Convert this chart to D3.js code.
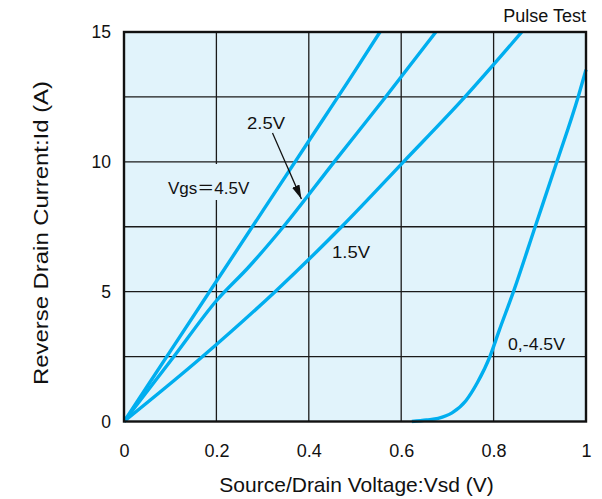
<!DOCTYPE html>
<html>
<head>
<meta charset="utf-8">
<script src="https://cdn.jsdelivr.net/npm/d3@7"></script>
<style>
  html, body { margin: 0; padding: 0; background: #ffffff; }
  svg { display: block; font-family: "Liberation Sans", Arial, Helvetica, sans-serif; }
</style>
</head>
<body>
<svg id="chart" width="602" height="499"></svg>
<script>
// Reverse drain current vs source/drain voltage, one curve per gate bias
const xTicks = [0, 0.2, 0.4, 0.6, 0.8, 1];
const xTickLabels = ["0", "0.2", "0.4", "0.6", "0.8", "1"];
const yTicks = [0, 5, 10, 15];
const yGrid = [0, 2.5, 5, 7.5, 10, 12.5, 15];

// Vgs = 4.5 V
const vsd45 = [0, 0.1, 0.2, 0.3, 0.4, 0.5, 0.554];
const id45  = [0, 2.7, 5.4, 8.1, 10.8, 13.5, 15];

// Vgs = 2.5 V
const vsd25 = [0, 0.108, 0.2, 0.27, 0.345, 0.455, 0.562, 0.675];
const id25  = [0, 2.5, 4.65, 5.95, 7.5, 10, 12.4, 15];

// Vgs = 1.5 V
const vsd15 = [0, 0.17, 0.327, 0.471, 0.605, 0.738, 0.861];
const id15  = [0, 2.5, 5, 7.5, 10, 12.5, 15];

// Vgs = 0 and -4.5 V (body diode)
const vsd0  = [0.623, 0.655, 0.68, 0.71, 0.74, 0.765, 0.792, 0.812, 0.843, 0.89, 0.937, 0.983, 1.0];
const id0   = [0, 0.06, 0.12, 0.33, 0.8, 1.5, 2.5, 3.5, 5, 7.5, 10, 12.5, 13.55];

const seriesLabels = ["Vgs＝4.5V", "2.5V", "1.5V", "0,-4.5V"];
// point on the 2.5 V curve that the arrow indicates
const arrowTarget = [0.384, 8.57];

const svg = d3.select("#chart");
const plotL = 124, plotR = 586, plotT = 32, plotB = 421.5;
const ink = "#111";
const bg = "#e1f3fb";

const x = d3.scaleLinear().domain([0, 1]).range([plotL, plotR]);
const y = d3.scaleLinear().domain([0, 15]).range([plotB, plotT]);

// plot background
svg.append("rect")
  .attr("x", plotL).attr("y", plotT)
  .attr("width", plotR - plotL).attr("height", plotB - plotT)
  .attr("fill", bg);

// grid
const grid = svg.append("g").attr("stroke", "#1a1a1a").attr("stroke-width", 1.3);
grid.selectAll("line.v").data(xTicks.slice(1, -1)).join("line").attr("class", "v")
  .attr("x1", d => x(d)).attr("x2", d => x(d))
  .attr("y1", plotT).attr("y2", plotB);
grid.selectAll("line.h").data(yGrid.slice(1, -1)).join("line").attr("class", "h")
  .attr("x1", plotL).attr("x2", plotR)
  .attr("y1", d => y(d)).attr("y2", d => y(d));

// label patch for the Vgs label (hides the grid line behind it)
svg.append("rect")
  .attr("x", 165).attr("y", 164).attr("width", 95).attr("height", 36)
  .attr("fill", bg);

// curves
svg.append("clipPath").attr("id", "plotclip")
  .append("rect").attr("x", plotL).attr("y", plotT)
  .attr("width", plotR - plotL + 2).attr("height", plotB - plotT + 2);

const line = d3.line().x(d => x(d[0])).y(d => y(d[1])).curve(d3.curveMonotoneX);
const curves = [
  d3.zip(vsd45, id45),
  d3.zip(vsd25, id25),
  d3.zip(vsd15, id15),
  d3.zip(vsd0, id0)
];
svg.append("g").attr("clip-path", "url(#plotclip)")
  .selectAll("path").data(curves).join("path")
  .attr("d", line)
  .attr("fill", "none")
  .attr("stroke", "#00aeef")
  .attr("stroke-width", 3.4)
  .attr("stroke-linejoin", "round");

// frame
svg.append("rect")
  .attr("x", plotL).attr("y", plotT)
  .attr("width", plotR - plotL).attr("height", plotB - plotT)
  .attr("fill", "none").attr("stroke", ink).attr("stroke-width", 2.4);

// axes (labels only, the frame carries the lines)
const xAxis = d3.axisBottom(x).tickValues(xTicks)
  .tickFormat((d, i) => xTickLabels[i]).tickSize(0);
const gx = svg.append("g").attr("transform", `translate(0,${plotB})`).call(xAxis);
gx.select(".domain").remove();
gx.selectAll("text").attr("font-size", 18).attr("fill", ink)
  .attr("font-family", "Liberation Sans, Arial, sans-serif")
  .attr("y", 35).attr("dy", 0);

const yAxis = d3.axisLeft(y).tickValues(yTicks).tickSize(0).tickPadding(13);
const gy = svg.append("g").attr("transform", `translate(${plotL},0)`).call(yAxis);
gy.select(".domain").remove();
gy.selectAll("text").attr("font-size", 17.5).attr("fill", ink)
  .attr("font-family", "Liberation Sans, Arial, sans-serif");

// axis titles
svg.append("text")
  .attr("x", 356.5).attr("y", 492)
  .attr("text-anchor", "middle").attr("font-size", 21).attr("fill", ink)
  .text("Source/Drain Voltage:Vsd (V)");
svg.append("text")
  .attr("transform", `translate(48,233) rotate(-90)`)
  .attr("text-anchor", "middle").attr("font-size", 20).attr("fill", ink)
  .attr("textLength", 304).attr("lengthAdjust", "spacingAndGlyphs")
  .text("Reverse Drain Current:Id (A)");

svg.append("text")
  .attr("x", plotR).attr("y", 21.5)
  .attr("text-anchor", "end").attr("font-size", 18).attr("fill", ink)
  .text("Pulse Test");

// curve labels
const eq = seriesLabels[0].split("＝");
const vgs = svg.append("text")
  .attr("x", 168).attr("y", 194)
  .attr("font-size", 17).attr("fill", ink);
vgs.append("tspan").text(eq[0]);
vgs.append("tspan").attr("font-family", "Noto Sans CJK JP").text("＝");
vgs.append("tspan").text(eq[1]);

function tag(txt, x0, baseline, w) {
  svg.append("text")
    .attr("x", x0).attr("y", baseline)
    .attr("font-size", 16.5).attr("fill", ink)
    .attr("textLength", w).attr("lengthAdjust", "spacingAndGlyphs")
    .text(txt);
}
tag(seriesLabels[1], 247, 128.5, 38);
tag(seriesLabels[2], 332, 257.5, 38);
tag(seriesLabels[3], 508, 350, 57);

// arrow from the 2.5V label to its curve
svg.append("defs").append("marker").attr("id", "arrowhead")
  .attr("viewBox", "0 0 14 8").attr("refX", 14).attr("refY", 4)
  .attr("markerWidth", 14).attr("markerHeight", 8)
  .attr("markerUnits", "userSpaceOnUse")
  .attr("orient", "auto")
  .append("path").attr("d", "M0,0 L14,4 L0,8 Z").attr("fill", ink);
svg.append("line")
  .attr("x1", 272.5).attr("y1", 133)
  .attr("x2", x(arrowTarget[0])).attr("y2", y(arrowTarget[1]))
  .attr("stroke", ink).attr("stroke-width", 1.3)
  .attr("marker-end", "url(#arrowhead)");
</script>
</body>
</html>
